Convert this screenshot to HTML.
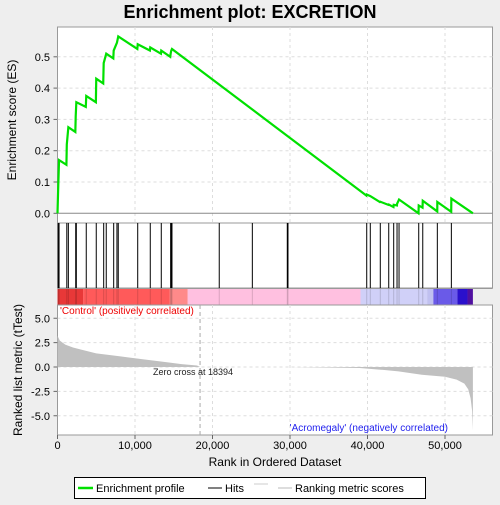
<!DOCTYPE html>
<html><head><meta charset="utf-8"><style>
body{margin:0;background:#eeeeee;font-family:"Liberation Sans",sans-serif}
svg text{font-family:"Liberation Sans",sans-serif}
</style></head><body>
<svg width="500" height="500">
<text x="250" y="18" text-anchor="middle" font-size="18" font-weight="bold" fill="#000">Enrichment plot: EXCRETION</text>
<rect x="57.5" y="27" width="435" height="196" fill="#fff" stroke="#999"/>
<rect x="57.5" y="223" width="435" height="65" fill="#fff" stroke="#999"/>
<rect x="57.5" y="305" width="435" height="130" fill="#fff" stroke="#999"/>
<g id="g"></g>
<text x="16" y="120" transform="rotate(-90 16 120)" text-anchor="middle" font-size="12">Enrichment score (ES)</text>
<text x="22" y="370" transform="rotate(-90 22 370)" text-anchor="middle" font-size="12">Ranked list metric (tTest)</text>
<text x="275" y="466" text-anchor="middle" font-size="12">Rank in Ordered Dataset</text>
<text x="60" y="314" font-size="10" fill="#e00">'Control' (positively correlated)</text>
<text x="448" y="431" text-anchor="end" font-size="10" fill="#2222ee">'Acromegaly' (negatively correlated)</text>
<text x="153" y="375" font-size="9" fill="#222">Zero cross at 18394</text>
<g>
<rect x="74.5" y="477.5" width="351" height="21" fill="#fff" stroke="#000"/>
<line x1="78" y1="488" x2="93" y2="488" stroke="#00e000" stroke-width="2.5"/>
<text x="96" y="492" font-size="11">Enrichment profile</text>
<line x1="208" y1="488" x2="222" y2="488" stroke="#000"/>
<text x="225" y="492" font-size="11">Hits</text>
<line x1="254" y1="484" x2="268" y2="484" stroke="#ccc"/>
<line x1="278" y1="488" x2="292" y2="488" stroke="#bbb"/>
<text x="295" y="492" font-size="11">Ranking metric scores</text>
</g>
</svg>
<script>
const hitRanks=[100,200,1200,1400,2350,2430,3710,5000,5960,6290,7250,7670,7840,10350,11970,13390,14600,14680,14770,20870,25140,29650,29740,39900,40360,41650,42740,43380,43810,44070,46610,47130,49010,50820];
const esRanks=[0,100,200,1150,1200,1400,2300,2350,2430,3650,3710,4950,5000,5900,5960,6290,7200,7250,7670,7840,10300,10350,11920,11970,13350,13390,14550,14600,14680,14770,39850,39900,40360,41600,41650,42700,42740,43350,43380,43800,43810,44070,46580,46610,47100,47130,49000,49010,50800,50820,53600];
const esValues=[0,0.09,0.17,0.155,0.22,0.275,0.26,0.31,0.355,0.34,0.375,0.355,0.43,0.415,0.48,0.51,0.495,0.52,0.545,0.565,0.525,0.54,0.52,0.53,0.51,0.52,0.50,0.51,0.52,0.525,0.057,0.06,0.055,0.036,0.037,0.027,0.028,0.02,0.027,0.025,0.03,0.044,0.0,0.025,0.018,0.04,0.006,0.036,0.005,0.047,0.0];
const metricRanks=[0,300,1000,2000,3000,5000,8000,11000,14000,16000,18000,18394,30000,39000,42000,44000,47000,50000,51500,52500,53000,53300,53500,53600];
const metricValues=[3.2,2.7,2.3,2.0,1.8,1.4,1.1,0.8,0.5,0.3,0.15,0,0,-0.1,-0.3,-0.45,-0.8,-1.0,-1.3,-1.7,-2.3,-3.2,-4.5,-6.5];
const esTicks=[0,0.1,0.2,0.3,0.4,0.5];
const metricTicks=[5,2.5,0,-2.5,-5];
const xTicks=[0,10000,20000,30000,40000,50000];
const X=r=>57.5+r*0.00775;
const YE=v=>213.3-v*313;
const YM=v=>367-v*9.75;
const NS="http://www.w3.org/2000/svg";
const g=document.getElementById('g');
function mk(t,a,p){const e=document.createElementNS(NS,t);for(const k in a)e.setAttribute(k,a[k]);(p||g).appendChild(e);return e;}
// grids
xTicks.forEach(t=>{if(t>0){mk('line',{x1:X(t),x2:X(t),y1:27,y2:223,stroke:'#ddd','stroke-dasharray':'3,3'});mk('line',{x1:X(t),x2:X(t),y1:305,y2:435,stroke:'#ddd','stroke-dasharray':'3,3'});}
 const l=mk('text',{x:X(t),y:449,'text-anchor':'middle','font-size':'11'});l.textContent=t.toLocaleString('en-US');
 
 
 mk('line',{x1:X(t),x2:X(t),y1:435,y2:439,stroke:'#666'});});
esTicks.forEach(t=>{if(t>0)mk('line',{x1:57.5,x2:492.5,y1:YE(t),y2:YE(t),stroke:'#ddd','stroke-dasharray':'3,3'});
 const l=mk('text',{x:50,y:YE(t)+4,'text-anchor':'end','font-size':'11'});l.textContent=t.toFixed(1);
 
 
 mk('line',{x1:53.5,x2:57.5,y1:YE(t),y2:YE(t),stroke:'#666'});});
metricTicks.forEach(t=>{mk('line',{x1:57.5,x2:492.5,y1:YM(t),y2:YM(t),stroke:'#ddd','stroke-dasharray':'3,3'});
 const l=mk('text',{x:50,y:YM(t)+4,'text-anchor':'end','font-size':'11'});l.textContent=t.toFixed(1);
 
 
 mk('line',{x1:53.5,x2:57.5,y1:YM(t),y2:YM(t),stroke:'#666'});});
mk('line',{x1:57.5,x2:492.5,y1:YE(0),y2:YE(0),stroke:'#888'});
mk('line',{x1:X(18394),x2:X(18394),y1:305,y2:435,stroke:'#aaa','stroke-dasharray':'4,3'});
// metric area
let d=`M${X(0)},${YM(0)}`;metricRanks.forEach((r,i)=>d+=` L${X(r)},${YM(metricValues[i])}`);d+=` L${X(53600)},${YM(0)} Z`;
const ar=mk('path',{d:d,fill:'#c0c0c0'});


// color bar
const segs=[[0,3300,'#e83838'],[3300,14500,'#ff5a5a'],[14500,16800,'#ff8a8a'],[16800,39100,'#ffc0e0'],[39100,47700,'#d0d0f8'],[47700,48500,'#c0c0f0'],[48500,51600,'#6a5ae8'],[51600,52900,'#2a10cc'],[52900,53600,'#5010a0']];
segs.forEach(s=>{const r=mk('rect',{x:X(s[0]),y:288.5,width:X(s[1])-X(s[0]),height:16,fill:s[2]});
 
 });
mk('line',{x1:57.5,x2:492.5,y1:288.5,y2:288.5,stroke:'#999'});
// hits
hitRanks.forEach(r=>{const l=mk('line',{x1:X(r),x2:X(r),y1:223,y2:288,stroke:'#000'});
 
 
 const c=mk('line',{x1:X(r),x2:X(r),y1:288.5,y2:304.5,stroke:'rgba(0,0,0,0.15)'});});
// ES line
let p='';esRanks.forEach((r,i)=>p+=(i?' L':'M')+X(r)+','+YE(esValues[i]));
const es=mk('path',{d:p,fill:'none',stroke:'#00e000','stroke-width':2.2});


</script>
</body></html>
